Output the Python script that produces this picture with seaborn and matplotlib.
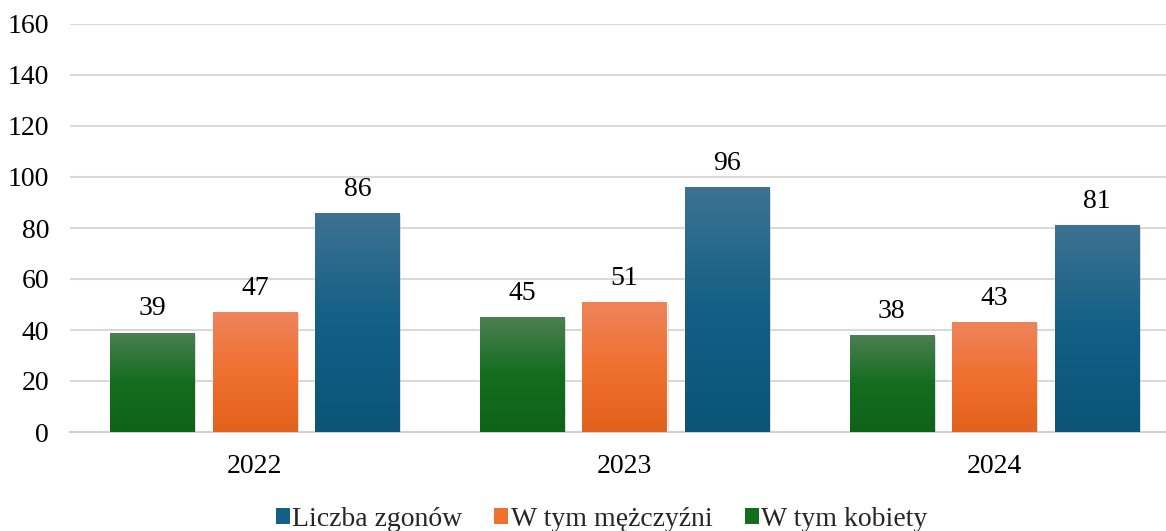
import numpy as np
import pandas as pd
import matplotlib
matplotlib.use("Agg")
import matplotlib.pyplot as plt
import seaborn as sns
from matplotlib.patches import Patch
from matplotlib.colors import LinearSegmentedColormap
import matplotlib.patheffects as pe

years = ["2022", "2023", "2024"]
series_names = ["W tym kobiety", "W tym mężczyźni", "Liczba zgonów"]
kobiety = [39, 45, 38]
mezczyzni = [47, 51, 43]
liczba = [86, 96, 81]

df = pd.DataFrame({
    "Rok": years * 3,
    "Seria": [series_names[0]] * 3 + [series_names[1]] * 3 + [series_names[2]] * 3,
    "Wartość": kobiety + mezczyzni + liczba,
})

grad = {
    "W tym kobiety": ("#4c7f53", "#146d1f", "#0f6319"),
    "W tym mężczyźni": ("#ee845c", "#f07030", "#e2611c"),
    "Liczba zgonów": ("#3d7292", "#135f85", "#0b5478"),
}
mid = {k: v[1] for k, v in grad.items()}

sns.set_theme(style="white")
plt.rcParams["font.family"] = ["Liberation Serif", "DejaVu Serif"]
FS = 20

fig = plt.figure(figsize=(11.66, 5.31), dpi=100)
ax = fig.add_axes([70 / 1166, 99 / 531, 1109 / 1166, 408 / 531])

sns.barplot(data=df, x="Rok", y="Wartość", hue="Seria", hue_order=series_names,
            order=years, palette=mid, width=0.832, gap=0.18, ax=ax, legend=False,
            saturation=1, zorder=3)

ax.set_ylim(0, 160)
ax.set_yticks(np.arange(0, 161, 20))
ax.yaxis.grid(True, color="#d9d9d9", linewidth=1.5, zorder=0)
ax.set_axisbelow(True)
for s in ["top", "right", "left"]:
    ax.spines[s].set_visible(False)
ax.spines["bottom"].set_color("#d0d0d0")
ax.spines["bottom"].set_linewidth(1.5)
ax.tick_params(axis="y", length=0, pad=15, labelsize=FS, labelcolor="black")
ax.tick_params(axis="x", length=0, pad=16, labelsize=FS, labelcolor="black")
ax.set_xlabel("")
ax.set_ylabel("")

# gradient fill + labels
for cont, name in zip(ax.containers, series_names):
    top_c, m_c, bot_c = grad[name]
    cmap = LinearSegmentedColormap.from_list(name, [bot_c, m_c, top_c])
    for bar in cont:
        x0, y0 = bar.get_x(), bar.get_y()
        w, h = bar.get_width(), bar.get_height()
        bar.set_path_effects([pe.SimplePatchShadow(offset=(1.5, -1.5), shadow_rgbFace="#888888", alpha=0.35), pe.Normal()])
        g = np.linspace(0, 1, 256).reshape(-1, 1)
        im = ax.imshow(g, extent=[x0, x0 + w, y0, y0 + h], origin="lower", aspect="auto",
                       cmap=cmap, zorder=4)
        im.set_clip_path(bar)
        ax.annotate(f"{int(h)}", (x0 + w / 2, h), xytext=(0, 8), textcoords="offset points",
                    ha="center", va="bottom", fontsize=FS, color="black")

ax.set_xlim(-0.5, 2.5)

handles = [Patch(facecolor=mid[n], edgecolor="none") for n in series_names[::-1]]
fig.legend(handles, series_names[::-1], loc="center", bbox_to_anchor=(0.516, 12 / 531),
           ncol=3, frameon=False, fontsize=FS, handlelength=0.5, handleheight=0.5,
           handletextpad=0.1, columnspacing=1.15)

fig.savefig("out.png", dpi=100)
